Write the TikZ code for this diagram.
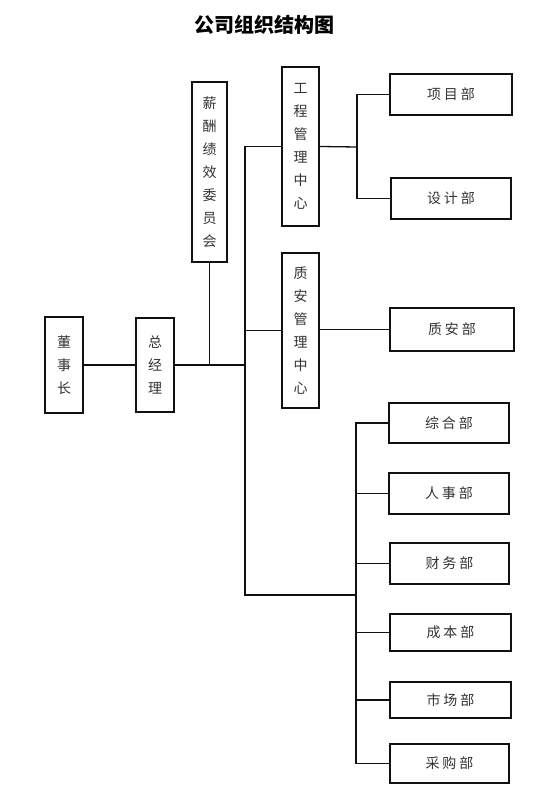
\documentclass[tikz,border=0pt]{standalone}
\usepackage{fontspec}
\newfontfamily\cjk{Noto Sans CJK SC}
\newfontfamily\cjkspaced[LetterSpace=20]{Noto Sans CJK SC}
\usetikzlibrary{positioning,calc}
\definecolor{boxline}{HTML}{111111}
\definecolor{txt}{HTML}{333333}
\tikzset{
  box/.style={draw=boxline, line width=1.3pt, inner sep=0pt, align=center, text=txt},
  vbox/.style={box, minimum width=37pt, font=\cjk\fontsize{14}{23}\selectfont},
  dept/.style={box, minimum width=120pt, minimum height=41pt, font=\cjkspaced\fontsize{14}{16}\selectfont},
  link/.style={line width=1.3pt, draw=boxline},
}

\begin{document}
\begin{tikzpicture}[x=1pt, y=-1pt]
\useasboundingbox (0,0) rectangle (557,799);

% ---- title ----------------------------------------------------------------
\node[font=\cjk\bfseries\fontsize{20}{22}\selectfont] (title) at (264,25) {公司组织结构图};

% ---- left column: board, general manager, committee -----------------------
\node[vbox, minimum width=38pt, minimum height=96pt] (board) at (64,365) {董\\事\\长};
\node[vbox, minimum width=38pt, minimum height=94pt] (gm) at (155,365) {总\\经\\理};
\node[vbox, minimum width=35pt, minimum height=180pt] (pay) at (209.5,172) {薪\\酬\\绩\\效\\委\\员\\会};

% ---- centres ---------------------------------------------------------------
\node[vbox, minimum height=159pt] (eng) at (300.5,146.5) {工\\程\\管\\理\\中\\心};
\node[vbox, minimum height=155pt] (qs) at (300.5,330.5) {质\\安\\管\\理\\中\\心};

% ---- departments -----------------------------------------------------------
\node[dept, minimum width=122pt] (proj) at (451,94.5) {项目部};
\node[dept] (design) at (451,198.5) {设计部};
\node[dept, minimum width=124pt, minimum height=43pt] (qsdept) at (452,329.5) {质安部};
\node[dept, minimum height=40pt] (admin) at (449,423) {综合部};
\node[dept] (hr) at (449,493.5) {人事部};
\node[dept, minimum width=119pt] (fin) at (449.5,563.5) {财务部};
\node[dept, minimum width=121pt, minimum height=37pt] (cost) at (450.5,632.5) {成本部};
\node[dept, minimum width=121pt, minimum height=36pt] (mkt) at (450.5,700) {市场部};
\node[dept, minimum width=119pt, minimum height=39pt] (purch) at (449.5,763.5) {采购部};

% ---- connectors ------------------------------------------------------------
\coordinate (trunk) at (245,595);
\coordinate (ebus) at (357,147);
\coordinate (sbus) at (356,595);
\draw[link] (board) -- (gm);
\draw[link] (gm.east) -- (gm.east -| trunk);
\draw[link] (pay.south) -- (pay.south |- gm.east);
\draw[link] (eng.west) -| (trunk) -- (sbus);
\draw[link] (qs.west) -- (qs.west -| trunk);
% engineering centre to its two departments
\draw[link] (eng.east) -- (ebus);
\draw[link] (proj.west) -| (ebus) |- (design.west);
\draw[link] (qs.east |- qsdept.west) -- (qsdept.west);
% bottom bus to the six departments
\draw[link] (admin.west) -| (sbus) |- (purch.west);
\foreach \d in {hr,fin,cost,mkt} {\draw[link] (\d.west) -- (\d.west -| sbus);}
\end{tikzpicture}
\end{document}
